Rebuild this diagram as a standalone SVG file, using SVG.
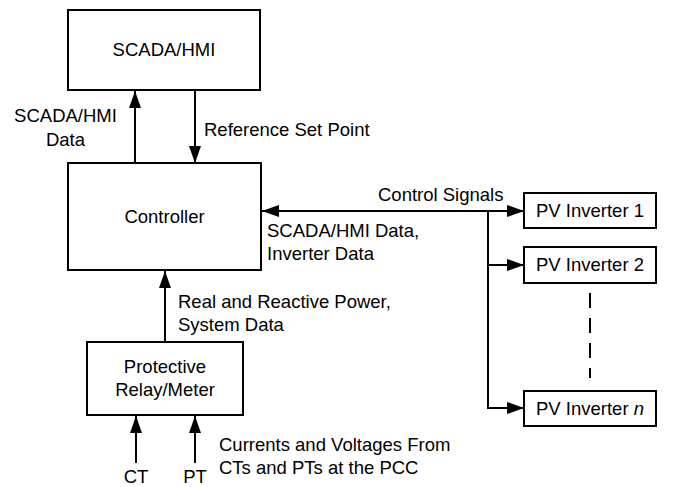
<svg xmlns="http://www.w3.org/2000/svg" width="673" height="487" viewBox="0 0 673 487">
<style>
  .box { fill: #fff; stroke: #000; stroke-width: 2; }
  .ln { fill: none; stroke: #000; stroke-width: 2; }
  text { font-family: "Liberation Sans", Arial, sans-serif; font-size: 18.5px; fill: #000; }
  .c { text-anchor: middle; }
</style>
<defs>
  <marker id="ah" markerUnits="userSpaceOnUse" markerWidth="17" markerHeight="12" refX="17" refY="6" orient="auto-start-reverse">
    <path d="M0,0 L17,6 L0,12 z" fill="#000"/>
  </marker>
</defs>
<rect width="673" height="487" fill="#fff"/>

<g id="connectors">
  <line class="ln" x1="135" y1="163" x2="135" y2="91" marker-end="url(#ah)"/>
  <line class="ln" x1="195" y1="91" x2="195" y2="163" marker-end="url(#ah)"/>
  <line class="ln" x1="262" y1="211" x2="524" y2="211" marker-start="url(#ah)" marker-end="url(#ah)"/>
  <line class="ln" x1="488" y1="265" x2="524" y2="265" marker-end="url(#ah)"/>
  <path class="ln" d="M488,211 V408 H524" marker-end="url(#ah)"/>
  <line class="ln" x1="590" y1="293" x2="590" y2="378" stroke-dasharray="15 10"/>
  <line class="ln" x1="165" y1="342" x2="165" y2="271" marker-end="url(#ah)"/>
  <line class="ln" x1="136" y1="463" x2="136" y2="416" marker-end="url(#ah)"/>
  <line class="ln" x1="195" y1="463" x2="195" y2="416" marker-end="url(#ah)"/>
  <text class="c" x="65.5" y="122">SCADA/HMI</text>
  <text class="c" x="65.5" y="146">Data</text>
  <text x="204" y="136">Reference Set Point</text>
  <text x="378" y="201">Control Signals</text>
  <text x="267" y="237">SCADA/HMI Data,</text>
  <text x="267" y="260">Inverter Data</text>
  <text x="178" y="308">Real and Reactive Power,</text>
  <text x="178" y="331">System Data</text>
  <text x="219" y="451">Currents and Voltages From</text>
  <text x="219" y="474">CTs and PTs at the PCC</text>
  <text class="c" x="136" y="483">CT</text>
  <text class="c" x="195" y="483">PT</text>
</g>

<g id="scada">
  <rect class="box" x="68" y="10" width="192" height="80"/>
  <text class="c" x="164" y="56">SCADA/HMI</text>
</g>
<g id="controller">
  <rect class="box" x="68" y="163" width="193" height="107"/>
  <text class="c" x="164.5" y="223">Controller</text>
</g>
<g id="relay">
  <rect class="box" x="87" y="342" width="156" height="73"/>
  <text class="c" x="165" y="373">Protective</text>
  <text class="c" x="165" y="396">Relay/Meter</text>
</g>
<g id="pv1">
  <rect class="box" x="524" y="193" width="132" height="35"/>
  <text class="c" x="590" y="217">PV Inverter 1</text>
</g>
<g id="pv2">
  <rect class="box" x="524" y="247" width="132" height="36"/>
  <text class="c" x="590" y="271">PV Inverter 2</text>
</g>
<g id="pvn">
  <rect class="box" x="524" y="391" width="132" height="35"/>
  <text class="c" x="590" y="415">PV Inverter <tspan font-style="italic">n</tspan></text>
</g>
</svg>
